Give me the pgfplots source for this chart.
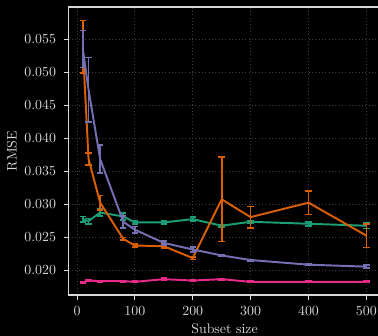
\documentclass[border=0pt]{standalone}
\usepackage{pgfplots}
\usepackage{pgfplotstable}
\pgfplotsset{compat=1.18}
\definecolor{dteal}{HTML}{1B9E77}
\definecolor{dorange}{HTML}{D95F02}
\definecolor{dpurple}{HTML}{7570B3}
\definecolor{dpink}{HTML}{E7298A}
\definecolor{fg}{HTML}{D8D8D8}
\definecolor{gridc}{HTML}{3E3E3E}

\pgfplotstableread{
x y e
10 0.0277 0.0004
20 0.0274 0.0004
40 0.0287 0.0005
80 0.0281 0.0005
100 0.0272 0.0002
150 0.0272 0.0002
200 0.0277 0.0003
250 0.0267 0.0002
300 0.0273 0.0002
400 0.0270 0.0003
500 0.0267 0.0004
}\teal

\pgfplotstableread{
x y e
10 0.0538 0.0040
20 0.0368 0.0009
40 0.0302 0.0011
80 0.0247 0.0002
100 0.0237 0.0002
150 0.0236 0.0003
200 0.0218 0.0002
250 0.0307 0.0064
300 0.0280 0.0016
400 0.0302 0.0018
500 0.0252 0.0018
}\orange

\pgfplotstableread{
x y e
10 0.0535 0.0028
20 0.0473 0.0049
40 0.0368 0.0021
80 0.0273 0.0009
100 0.0261 0.0005
150 0.0241 0.0003
200 0.0231 0.0004
250 0.0222 0.0001
300 0.0215 0.0001
400 0.0208 0.0001
500 0.0205 0.0002
}\purple

\pgfplotstableread{
x y e
10 0.0181 0.0001
20 0.0184 0.0001
40 0.0183 0.0001
80 0.0183 0.0001
100 0.0182 0.0001
150 0.0186 0.0002
200 0.0184 0.0001
250 0.0186 0.0001
300 0.0182 0.0001
400 0.0182 0.0001
500 0.0182 0.0001
}\pink

\pgfplotsset{
  myerr/.style={
    error bars/.cd,
      y dir=both, y explicit,
      error bar style={line width=1.2pt, #1},
      error mark options={rotate=90, mark size=2.3pt, line width=1.2pt, #1},
  },
}

\begin{document}
\begin{tikzpicture}
\useasboundingbox[fill=black] (-49.4pt,-29.5pt) rectangle (222.8pt,212.4pt);
\begin{axis}[
  at={(0,0)}, anchor=south west,
  scale only axis,
  width=224.6pt, height=207.4pt,
  xmin=-14.5, xmax=524.5,
  ymin=0.01621, ymax=0.05985,
  xtick={0,100,200,300,400,500},
  ytick={0.020,0.025,0.030,0.035,0.040,0.045,0.050,0.055},
  yticklabel style={/pgf/number format/fixed, /pgf/number format/fixed zerofill, /pgf/number format/precision=3, xshift=-2pt},
  scaled y ticks=false,
  xticklabel style={yshift=-1.5pt},
  tick align=outside,
  major tick length=3.5pt,
  xtick pos=bottom, ytick pos=left,
  tick style={fg, line width=0.6pt},
  axis line style={fg, line width=0.8pt},
  ticklabel style={text=fg},
  grid=major,
  major grid style={gridc, dotted, line width=0.6pt},
  xlabel={Subset size},
  ylabel={RMSE},
  every axis x label/.style={at={(axis description cs:0.5,-0.118)}, anchor=center, text=fg},
  every axis y label/.style={at={(axis description cs:-0.182,0.5)}, rotate=90, anchor=center, text=fg},
]
\addplot[dteal, line width=1.4pt, no markers, myerr=dteal] table[x=x, y=y, y error=e] {\teal};
\addplot[dorange, line width=1.4pt, no markers, myerr=dorange] table[x=x, y=y, y error=e] {\orange};
\addplot[dpurple, line width=1.4pt, no markers, myerr=dpurple] table[x=x, y=y, y error=e] {\purple};
\addplot[dpink, line width=1.4pt, no markers, myerr=dpink] table[x=x, y=y, y error=e] {\pink};
\end{axis}
\end{tikzpicture}
\end{document}
